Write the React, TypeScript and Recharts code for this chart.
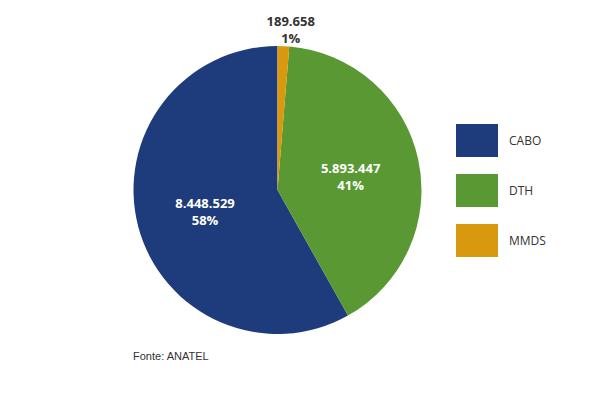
import { PieChart, Pie, Cell, Legend } from "recharts";

const categories = ["CABO", "DTH", "MMDS"];
const subscribers = [8448529, 5893447, 189658];
const shareLabels = ["58%", "41%", "1%"];
const valueLabels = ["8.448.529", "5.893.447", "189.658"];
const colors = ["#1e3b7b", "#5a9833", "#d9990f"];

const data = categories.map((name, i) => ({
  name,
  value: subscribers[i],
  valueLabel: valueLabels[i],
  share: shareLabels[i],
}));

const RAD = Math.PI / 180;

function renderLabel(props: any) {
  const { cx, cy, midAngle, outerRadius, index } = props;
  const item = data[index];
  const small = item.value / subscribers.reduce((a, b) => a + b, 0) < 0.05;
  const r = small ? outerRadius + 8 : outerRadius * 0.52;
  const x = cx + r * Math.cos(-midAngle * RAD) + (small ? 7 : 0);
  const y = cy + r * Math.sin(-midAngle * RAD);
  const fill = small ? "#333333" : "#ffffff";
  return (
    <text
      x={x}
      y={y}
      textAnchor="middle"
      fill={fill}
      fontFamily="'Open Sans', sans-serif"
      fontWeight="bold"
      fontSize={13}
    >
      <tspan x={x} dy={small ? -12 : -1}>{item.valueLabel}</tspan>
      <tspan x={x} dy={17}>{item.share}</tspan>
    </text>
  );
}

function LegendBox() {
  return (
    <div style={{ display: "flex", flexDirection: "column", gap: 17 }}>
      {categories.map((c, i) => (
        <div key={c} style={{ display: "flex", alignItems: "center" }}>
          <div style={{ width: 42, height: 33, background: colors[i] }} />
          <span
            style={{
              marginLeft: 11,
              fontFamily: "'Open Sans', sans-serif",
              fontSize: 12,
              color: "#333",
            }}
          >
            {c}
          </span>
        </div>
      ))}
    </div>
  );
}

export default function App() {
  return (
    <div style={{ position: "absolute", left: 0, top: 0, width: 601, height: 393, background: "#fff" }}>
      <PieChart width={601} height={393} margin={{ top: 0, right: 0, bottom: 0, left: 0 }}>
        <Pie
          data={data}
          dataKey="value"
          nameKey="name"
          cx={277.5}
          cy={190}
          outerRadius={144}
          startAngle={90}
          endAngle={450}
          stroke="none"
          label={renderLabel}
          labelLine={false}
          isAnimationActive={false}
        >
          {data.map((d, i) => (
            <Cell key={d.name} fill={colors[i]} />
          ))}
        </Pie>
        <Legend
          content={() => <LegendBox />}
          wrapperStyle={{ position: "absolute", left: 456, top: 124, width: 130 }}
        />
      </PieChart>
      <div
        style={{
          position: "absolute",
          left: 133,
          top: 350,
          fontFamily: "'Liberation Sans', Arial, sans-serif",
          fontSize: 11,
          color: "#333",
        }}
      >
        Fonte: ANATEL
      </div>
    </div>
  );
}
